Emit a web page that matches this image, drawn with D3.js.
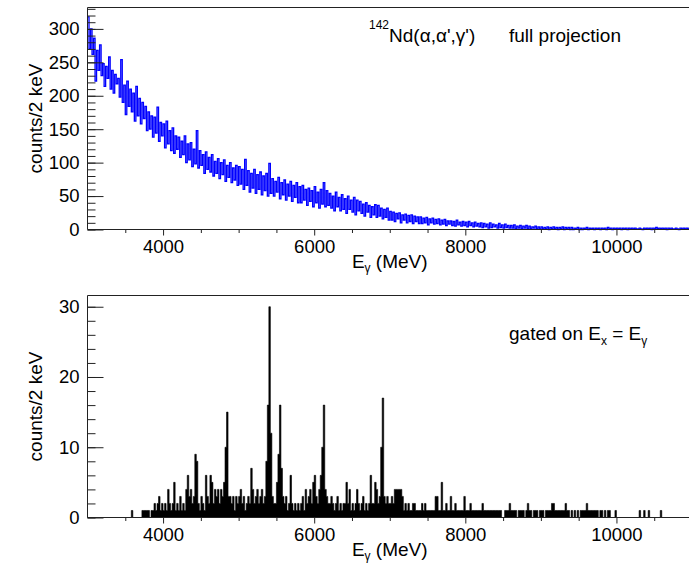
<!DOCTYPE html>
<meta charset="utf-8">
<style>
    body { margin: 0; background: #fff; }
    svg text { font-family: "Liberation Sans", Arial, Helvetica, sans-serif; fill: #000; }
    .axis path { display: none; }
    .axis line { stroke: #222; }
    .frame { fill: none; stroke: #222; }
</style>
<svg width="689" height="563"></svg>
<script src="https://d3js.org/d3.v7.min.js"></script>
<script>

    // spectra, 20 keV steps starting at 3000 keV
    var binStart = 3000, binWidth = 20;

    var fullCounts = [
        318, 270, 300, 262, 286, 222, 268, 238, 276, 230, 248, 214, 244, 226, 258, 210, 238, 204, 232, 218,
        226, 198, 254, 190, 216, 172, 222, 184, 210, 176, 204, 162, 214, 170, 196, 158, 190, 166, 184, 148,
        176, 150, 170, 138, 168, 144, 183, 132, 160, 140, 158, 122, 162, 128, 148, 118, 152, 114, 140, 120,
        138, 108, 132, 112, 140, 100, 128, 104, 130, 94, 120, 98, 148, 92, 118, 96, 112, 84, 116, 90,
        108, 86, 112, 80, 102, 84, 106, 76, 100, 82, 104, 72, 96, 78, 100, 70, 92, 74, 96, 66,
        94, 68, 90, 60, 105, 66, 88, 56, 84, 62, 90, 54, 82, 60, 86, 52, 80, 58, 84, 50,
        99, 54, 76, 50, 72, 56, 78, 46, 70, 52, 74, 44, 68, 50, 72, 42, 66, 48, 70, 40,
        64, 40, 66, 44, 60, 36, 62, 42, 58, 34, 64, 40, 56, 32, 60, 38, 70, 34, 58, 36,
        54, 32, 50, 28, 56, 34, 48, 28, 52, 30, 46, 24, 50, 30, 44, 26, 48, 22, 44, 28,
        42, 24, 38, 20, 40, 26, 36, 18, 34, 22, 37, 18, 36, 20, 32, 16, 30, 18, 32, 14,
        27, 14, 26, 12, 24, 16, 25, 10, 22, 14, 23, 10, 21, 12, 22, 9, 20, 12, 19, 9,
        19, 9, 17, 10, 18, 7, 16, 10, 17, 8, 15, 9, 16, 7, 14, 8, 15, 6, 13, 8,
        13, 6, 12, 5, 14, 7, 11, 5, 12, 6, 11, 4, 12, 6, 10, 4, 11, 5, 9, 4,
        10, 3, 9, 4, 8, 2, 10, 3, 8, 4, 7, 2, 9, 3, 7, 2, 8, 3, 6, 2,
        6, 2, 7, 1, 5, 2, 6, 1, 5, 2, 6, 1, 5, 1, 4, 2, 5, 1, 4, 1,
        4, 1, 3, 1, 4, 0, 3, 1, 4, 1, 3, 0, 3, 1, 4, 0, 3, 1, 3, 0,
        3, 0, 2, 1, 3, 0, 2, 0, 2, 1, 3, 0, 2, 1, 2, 0, 2, 1, 2, 0,
        2, 1, 2, 0, 3, 1, 2, 0, 2, 1, 2, 1, 2, 0, 2, 1, 2, 0, 2, 1,
        2, 1, 2, 1, 1, 2, 1, 0, 2, 1, 2, 1, 2, 0, 2, 1, 3, 1, 2, 1,
        2, 1, 2, 0, 2, 1, 2, 1, 1, 2, 1, 0, 2, 1, 2, 1, 2, 1, 2, 1
    ];

    var gatedCounts = [
        0, 0, 0, 0, 0, 0, 0, 0, 0, 0, 0, 0, 0, 0, 0, 0, 0, 0, 0, 0,
        0, 0, 0, 0, 0, 0, 0, 0, 0, 1, 0, 0, 0, 0, 0, 0, 1, 1, 1, 1,
        1, 0, 1, 1, 2, 1, 2, 3, 1, 2, 1, 2, 1, 4, 2, 1, 2, 5, 1, 2,
        1, 3, 1, 2, 1, 4, 6, 3, 4, 2, 3, 9, 8, 2, 1, 3, 2, 1, 6, 3,
        2, 6, 5, 2, 4, 3, 4, 2, 4, 3, 5, 10, 15, 3, 3, 2, 3, 1, 3, 2,
        3, 4, 2, 3, 1, 2, 3, 2, 7, 4, 2, 3, 4, 2, 3, 4, 2, 3, 8, 16,
        30, 12, 3, 2, 2, 5, 9, 16, 7, 3, 2, 3, 1, 2, 6, 2, 1, 2, 1, 2,
        1, 2, 3, 1, 4, 2, 3, 4, 2, 5, 6, 3, 2, 4, 6, 10, 16, 4, 3, 2,
        2, 3, 2, 1, 2, 3, 1, 2, 1, 2, 2, 5, 2, 4, 1, 2, 1, 2, 4, 2,
        1, 2, 3, 1, 2, 1, 2, 6, 2, 2, 5, 4, 2, 3, 10, 17, 3, 2, 3, 2,
        2, 3, 2, 4, 4, 4, 4, 4, 3, 1, 2, 1, 2, 1, 1, 2, 2, 1, 1, 1,
        1, 2, 1, 2, 1, 1, 1, 1, 1, 1, 3, 3, 1, 1, 5, 1, 1, 2, 1, 1,
        3, 1, 1, 2, 1, 1, 1, 1, 1, 3, 1, 1, 1, 2, 1, 1, 1, 1, 1, 1,
        1, 2, 1, 1, 1, 1, 1, 1, 1, 1, 1, 1, 1, 1, 0, 0, 1, 1, 1, 2,
        1, 1, 1, 1, 0, 1, 1, 1, 1, 0, 1, 2, 1, 1, 0, 1, 1, 1, 0, 1,
        1, 1, 0, 1, 1, 1, 1, 2, 2, 1, 1, 1, 1, 1, 1, 1, 2, 1, 1, 0,
        1, 0, 1, 0, 1, 0, 1, 1, 1, 1, 2, 1, 1, 1, 1, 1, 1, 1, 0, 1,
        1, 0, 1, 0, 1, 1, 0, 0, 0, 1, 0, 0, 0, 0, 0, 0, 0, 0, 0, 0,
        0, 0, 0, 0, 0, 1, 0, 0, 1, 0, 0, 1, 0, 0, 0, 0, 0, 0, 0, 1,
        0, 0, 0, 0, 0, 0, 0, 0, 0, 0, 0, 0, 0, 0, 0, 0, 0, 0, 0, 0
    ];

    var xLabelTicks = [4000, 6000, 8000, 10000];
    var xMinorTicks = [3500, 4500, 5000, 5500, 6500, 7000, 7500, 8500, 9000, 9500, 10500];
    var topYTicks = [0, 50, 100, 150, 200, 250, 300];
    var bottomYTicks = [0, 10, 20, 30];

    var svg = d3.select("svg");

    var x = d3.scaleLinear().domain([3000, 11000]).range([87.5, 692]);

    function toBins(counts) {
        var b = counts.map(function (v, i) { return { e: binStart + i * binWidth, v: v }; });
        b.push({ e: binStart + counts.length * binWidth, v: counts[counts.length - 1] });
        return b;
    }

    function drawPanel(y, yMajor, yMinorStep, titleY) {
        var g = svg.append("g");
        var top = y.range()[1], bottom = y.range()[0];

        // y axis, ticks pointing into the frame
        var minor = d3.range(0, y.domain()[1], yMinorStep);
        g.append("g").attr("class", "axis")
            .attr("transform", "translate(87.5,0)")
            .call(d3.axisLeft(y).tickValues(minor).tickSize(-8).tickSizeOuter(0).tickFormat(""));
        g.append("g").attr("class", "axis")
            .attr("transform", "translate(87.5,0)")
            .call(d3.axisLeft(y).tickValues(yMajor).tickSize(-16).tickPadding(8).tickSizeOuter(0))
            .attr("font-size", 18.5);

        // x axis, ticks below the frame
        g.append("g").attr("class", "axis")
            .attr("transform", "translate(0," + bottom + ")")
            .call(d3.axisBottom(x).tickValues(xMinorTicks).tickSize(3.5).tickSizeOuter(0).tickFormat(""));
        g.append("g").attr("class", "axis")
            .attr("transform", "translate(0," + bottom + ")")
            .call(d3.axisBottom(x).tickValues(xLabelTicks).tickSize(6).tickPadding(4).tickSizeOuter(0).tickFormat(d3.format("d")))
            .attr("font-size", 18.5);

        // frame
        g.append("path").attr("class", "frame")
            .attr("d", "M" + x.range()[1] + "," + top + "H87.5V" + bottom + "H" + x.range()[1]);

        // axis titles
        var xt = g.append("text")
            .attr("x", (x.range()[0] + x.range()[1]) / 2)
            .attr("y", titleY)
            .attr("text-anchor", "middle")
            .attr("font-size", 19);
        xt.append("tspan").text("E");
        xt.append("tspan").attr("font-size", 12).attr("dy", 4).text("γ");
        xt.append("tspan").attr("dy", -4).text(" (MeV)");

        g.append("text")
            .attr("transform", "translate(42," + ((top + bottom) / 2) + ") rotate(-90)")
            .attr("text-anchor", "middle")
            .attr("font-size", 19)
            .text("counts/2 keV");

        return g;
    }

    // top panel: full projection
    var yTop = d3.scaleLinear().domain([0, 332]).range([229.5, 7.5]);
    var gTop = drawPanel(yTop, topYTicks, 10, 268);

    gTop.insert("path", ":first-child")
        .datum(toBins(fullCounts))
        .attr("fill", "none")
        .attr("stroke", "#0000ff")
        .attr("stroke-width", 1.3)
        .attr("d", d3.line()
            .x(function (d) { return x(d.e); })
            .y(function (d) { return yTop(d.v); })
            .curve(d3.curveStepAfter));

    var t1 = gTop.append("text").attr("x", 369).attr("y", 42).attr("font-size", 19);
    t1.append("tspan").attr("font-size", 12).attr("dy", -13).text("142");
    t1.append("tspan").attr("dy", 13).text("Nd(α,α',γ')");

    gTop.append("text").attr("x", 509).attr("y", 42).attr("font-size", 19).text("full projection");

    // bottom panel: gated
    var yBot = d3.scaleLinear().domain([0, 31.6]).range([517.5, 295.5]);
    var gBot = drawPanel(yBot, bottomYTicks, 2, 556);

    gBot.insert("path", ":first-child")
        .datum(toBins(gatedCounts))
        .attr("fill", "#000")
        .attr("stroke", "#000")
        .attr("stroke-width", 0.6)
        .attr("d", d3.area()
            .x(function (d) { return x(d.e); })
            .y0(yBot(0))
            .y1(function (d) { return yBot(d.v); })
            .curve(d3.curveStepAfter));

    var t2 = gBot.append("text").attr("x", 509).attr("y", 340).attr("font-size", 19);
    t2.append("tspan").text("gated on E");
    t2.append("tspan").attr("font-size", 12).attr("dy", 5).text("x");
    t2.append("tspan").attr("dy", -5).text(" = E");
    t2.append("tspan").attr("font-size", 12).attr("dy", 5).text("γ");

</script>
